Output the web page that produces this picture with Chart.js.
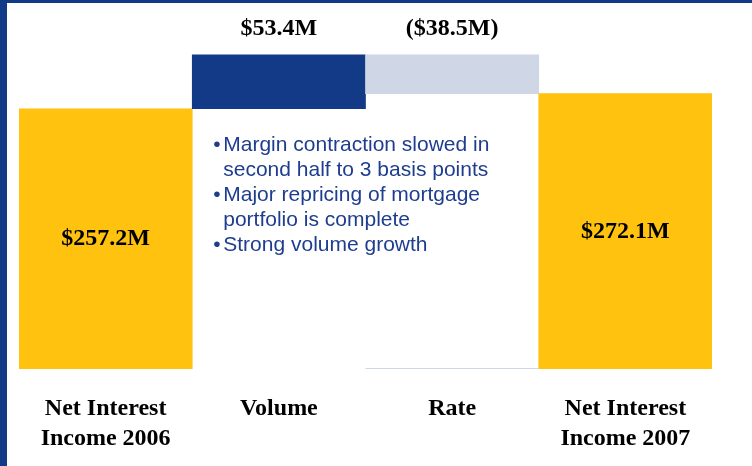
<!DOCTYPE html>
<html>
<head>
<meta charset="utf-8">
<script src="https://cdn.jsdelivr.net/npm/chart.js@4/dist/chart.umd.min.js"></script>
<style>
  html, body { margin: 0; padding: 0; background: #fff; }
  body { width: 752px; height: 466px; overflow: hidden; position: relative; }
  #frame {
    position: absolute; left: 0; top: 0; width: 745px; height: 463px; overflow: hidden;
    border-left: 7px solid #133a87; border-top: 3px solid #133a87;
  }
  /* a bit taller than the frame so the two-line axis labels sit low enough */
  #wrap { position: relative; width: 745px; height: 476px; }
</style>
</head>
<body>
<div id="frame"><div id="wrap"><canvas id="bridge"></canvas></div></div>
<script>
// Net interest income bridge, $M
const categories = [['Net Interest', 'Income 2006'], 'Volume', 'Rate', ['Net Interest', 'Income 2007']];
const startValues = [0, 257.2, 272.1, 0];
const endValues = [257.2, 310.6, 310.6, 272.1];
const valueLabels = ['$257.2M', '$53.4M', '($38.5M)', '$272.1M'];
const labelAbove = [false, true, true, false];
const barColors = ['#ffc20e', '#133a87', '#cfd6e6', '#ffc20e'];
const bullets = [
    ['Margin contraction slowed in', 'second half to 3 basis points'],
    ['Major repricing of mortgage', 'portfolio is complete'],
    ['Strong volume growth']
];

const serif = '"Liberation Serif", "Times New Roman", serif';
const sans = '"Liberation Sans", Arial, sans-serif';

// value labels: inside totals, above the step bars
const valueLabelPlugin = {
    id: 'valueLabels',
    afterDatasetsDraw(chart) {
        const ctx = chart.ctx;
        const meta = chart.getDatasetMeta(0);
        ctx.save();
        ctx.font = 'bold 24px ' + serif;
        ctx.fillStyle = '#000';
        ctx.textAlign = 'center';
        ctx.textBaseline = 'middle';
        meta.data.forEach((bar, i) => {
            const top = Math.min(bar.y, bar.base);
            const bottom = Math.max(bar.y, bar.base);
            const y = labelAbove[i] ? top - 26 : (top + bottom) / 2;
            ctx.fillText(valueLabels[i], bar.x, y);
        });
        ctx.restore();
    }
};

// bullet notes sitting under the Volume / Rate steps
const notesPlugin = {
    id: 'notes',
    afterDatasetsDraw(chart) {
        const ctx = chart.ctx;
        const x = chart.scales.x;
        const y = chart.scales.y;
        const left = x.getPixelForValue(1) - (x.getPixelForValue(1) - x.getPixelForValue(0)) / 2;
        const zeroY = y.getPixelForValue(0);

        // faint baseline under the Rate column
        const rateBar = chart.getDatasetMeta(0).data[2];
        ctx.save();
        ctx.strokeStyle = '#cfd6e6';
        ctx.lineWidth = 1;
        ctx.beginPath();
        ctx.moveTo(rateBar.x - rateBar.width / 2, zeroY - 0.5);
        ctx.lineTo(rateBar.x + rateBar.width / 2, zeroY - 0.5);
        ctx.stroke();

        ctx.font = '21px ' + sans;
        ctx.fillStyle = '#1e3d8f';
        ctx.textAlign = 'left';
        ctx.textBaseline = 'middle';
        let lineY = y.getPixelForValue(endValues[0]) + 36;
        bullets.forEach(item => {
            item.forEach((line, j) => {
                if (j === 0) ctx.fillText('\u2022', left + 21, lineY);
                ctx.fillText(line, left + 31, lineY);
                lineY += 25;
            });
        });
        ctx.restore();
    }
};

new Chart(document.getElementById('bridge'), {
    type: 'bar',
    data: {
        labels: categories,
        datasets: [{
            data: startValues.map((s, i) => [s, endValues[i]]),
            backgroundColor: barColors,
            borderWidth: 0,
            barPercentage: 1,
            categoryPercentage: 1
        }]
    },
    options: {
        responsive: true,
        maintainAspectRatio: false,
        animation: false,
        layout: { padding: { left: 12, right: 40, top: 22, bottom: 0 } },
        plugins: {
            legend: { display: false },
            tooltip: { enabled: false }
        },
        scales: {
            x: {
                grid: { display: false, drawTicks: false },
                border: { display: false },
                ticks: {
                    padding: 25,
                    color: '#000',
                    font: { family: serif, size: 24, weight: 'bold', lineHeight: 1.25 },
                    maxRotation: 0
                }
            },
            y: {
                display: false,
                min: 0,
                max: 340
            }
        }
    },
    plugins: [valueLabelPlugin, notesPlugin]
});
</script>
</body>
</html>
